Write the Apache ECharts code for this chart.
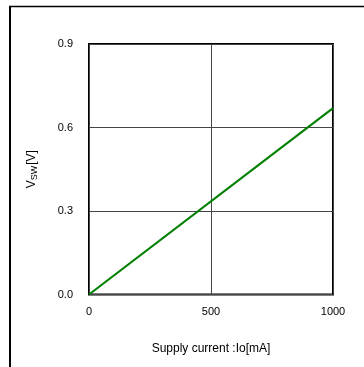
<!DOCTYPE html>
<html>
<head>
<meta charset="utf-8">
<script src="https://cdn.jsdelivr.net/npm/echarts@6/dist/echarts.min.js"></script>
<style>
  html, body { margin: 0; padding: 0; background: #fff; }
  #chart { width: 364px; height: 367px; }
</style>
</head>
<body>
<div id="chart"></div>
<script>
// Switch voltage vs. supply current
const currentMA = [0, 1000];
const vswVolts = [0, 0.67];
const xTicks = [0, 500, 1000];
const yTicks = [0.0, 0.3, 0.6, 0.9];

const chart = echarts.init(document.getElementById('chart'), null, { renderer: 'canvas' });
const font = '"Liberation Sans", Arial, sans-serif';

chart.setOption({
  animation: false,
  backgroundColor: '#fff',
  graphic: [
    { type: 'line', shape: { x1: 10, y1: 6, x2: 10, y2: 367 }, style: { stroke: '#000', lineWidth: 2 } },
    { type: 'line', shape: { x1: 9, y1: 6.5, x2: 364, y2: 6.5 }, style: { stroke: '#000', lineWidth: 1.5 } }
  ],
  grid: {
    left: 89, top: 44, right: 31, bottom: 72.5,
    show: true, borderColor: '#000', borderWidth: 2, backgroundColor: 'transparent'
  },
  xAxis: {
    type: 'value',
    min: xTicks[0], max: xTicks[xTicks.length - 1], interval: 500,
    name: 'Supply current :Io[mA]',
    nameLocation: 'middle', nameGap: 48,
    nameTextStyle: { fontFamily: font, fontSize: 12, color: '#000' },
    axisLine: { show: false }, axisTick: { show: false },
    axisLabel: { fontFamily: font, fontSize: 11, color: '#000', margin: 12, formatter: v => String(v) },
    splitLine: { show: true, lineStyle: { color: '#444', width: 1 } }
  },
  yAxis: {
    type: 'value',
    min: yTicks[0], max: yTicks[yTicks.length - 1], interval: 0.3,
    name: 'V{sub|SW}[V]',
    nameLocation: 'middle', nameGap: 50, nameRotate: 90,
    nameTextStyle: {
      fontFamily: font, fontSize: 12, color: '#000',
      rich: { sub: { fontFamily: font, fontSize: 9, color: '#000', padding: [5, 1, 0, 0] } }
    },
    axisLine: { show: false }, axisTick: { show: false },
    axisLabel: { fontFamily: font, fontSize: 11, color: '#000', margin: 16, formatter: v => v.toFixed(1) },
    splitLine: { show: true, lineStyle: { color: '#444', width: 1 } }
  },
  series: [{
    type: 'line',
    data: currentMA.map((x, i) => [x, vswVolts[i]]),
    showSymbol: false,
    lineStyle: { color: '#008000', width: 2.2 },
    z: 5
  }]
});
</script>
</body>
</html>
